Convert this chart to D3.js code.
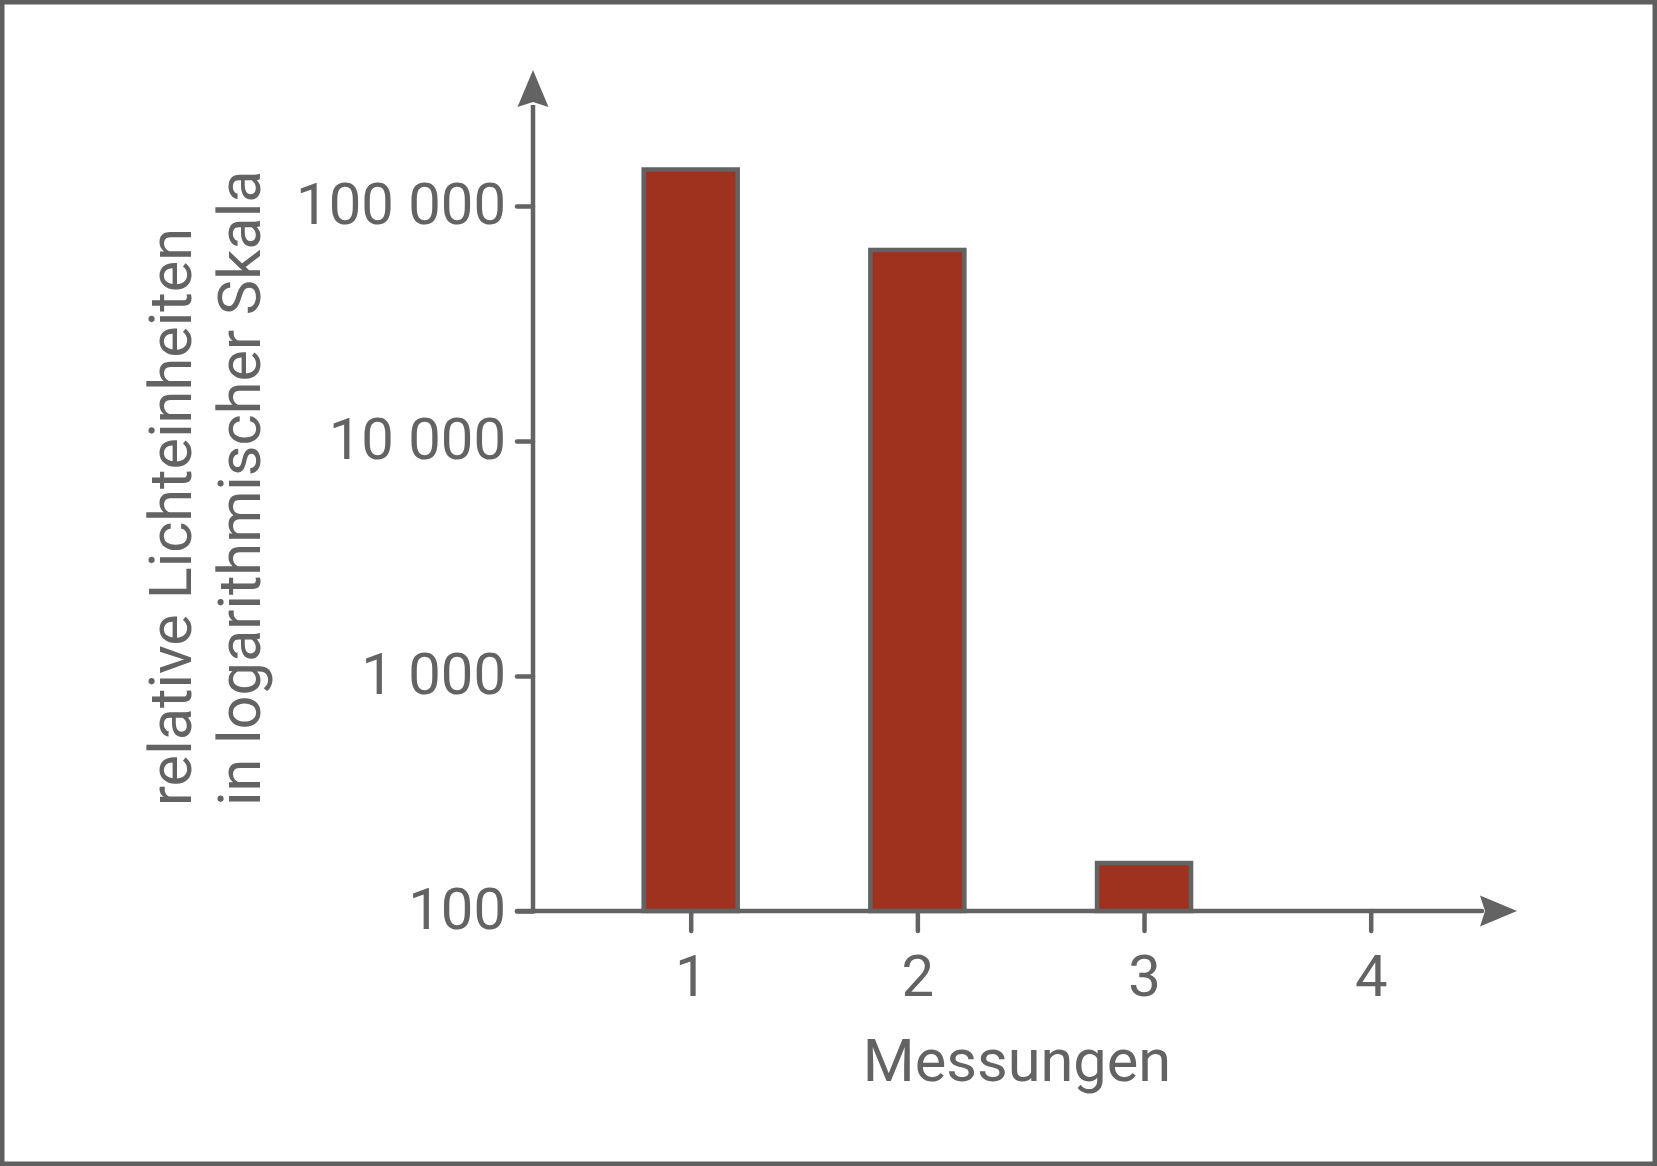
<!DOCTYPE html>
<html>
<head>
<meta charset="utf-8">
<script src="https://cdn.jsdelivr.net/npm/d3@7"></script>
<style>
  html, body { margin: 0; padding: 0; background: #fff; }
  svg { display: block; }
</style>
</head>
<body>
<svg id="chart" width="1657" height="1166"></svg>
<script>
// ---- data ----
const categories = [1, 2, 3, 4];
const values = [143000, 65000, 160, null];
const yTickValues = [100, 1000, 10000, 100000];
const yTitleLines = ["relative Lichteinheiten", "in logarithmischer Skala"];
const xTitle = "Messungen";

// ---- layout / style ----
const W = 1657, H = 1166;
const gray = "#636363";
const barFill = "#9f311f";
const font = "Roboto, 'Open Sans', sans-serif";
const fontSize = 58;
const titleSize = 59.5;
const lw = 4.5;

const axisX = 533;      // y-axis position
const axisY = 911;      // x-axis position

const svg = d3.select("#chart");

// border
svg.append("rect")
  .attr("x", lw / 2).attr("y", lw / 2)
  .attr("width", W - lw).attr("height", H - lw)
  .attr("fill", "#fff").attr("stroke", "#5f5f5f").attr("stroke-width", lw);

// scales
const y = d3.scaleLog().domain([100, 100000]).range([axisY, 206]);
const x = d3.scalePoint().domain(categories).range([690.7, 1370.7]);
const barW = 94;

// bars
svg.append("g").selectAll("rect")
  .data(categories.map((c, i) => ({ c, v: values[i] })).filter(d => d.v != null))
  .join("rect")
  .attr("x", d => x(d.c) - barW / 2)
  .attr("y", d => y(d.v))
  .attr("width", barW)
  .attr("height", d => y(100) - y(d.v))
  .attr("fill", barFill)
  .attr("stroke", gray)
  .attr("stroke-width", lw);

// y axis
const loc = d3.formatLocale({ decimal: ",", thousands: " ", grouping: [3], currency: ["", ""] });
const fmt = loc.format(",d");
const yAxis = d3.axisLeft(y).tickValues(yTickValues).tickFormat(fmt).tickSize(16).tickPadding(11);
const gy = svg.append("g").attr("transform", `translate(${axisX},0)`).call(yAxis);
gy.select(".domain").remove();
gy.selectAll(".tick line").attr("stroke", gray).attr("stroke-width", lw).attr("stroke-linecap", "round");
gy.selectAll(".tick text")
  .attr("fill", gray).attr("font-family", font).attr("font-size", fontSize)
  .attr("dy", "0.3em");

// x axis
const xAxis = d3.axisBottom(x).tickSize(20).tickPadding(24);
const gx = svg.append("g").attr("transform", `translate(0,${axisY})`).call(xAxis);
gx.select(".domain").remove();
gx.selectAll(".tick line").attr("stroke", gray).attr("stroke-width", lw).attr("stroke-linecap", "round");
gx.selectAll(".tick text")
  .attr("fill", gray).attr("font-family", font).attr("font-size", fontSize);

// axis lines with arrows
const yTop = 70, xRight = 1517, arrowLen = 37, arrowHalf = 15.5, notch = 5;
svg.append("line")
  .attr("x1", axisX).attr("y1", axisY + lw / 2).attr("x2", axisX).attr("y2", yTop + arrowLen - 2)
  .attr("stroke", gray).attr("stroke-width", lw);
svg.append("line")
  .attr("x1", 517).attr("y1", axisY).attr("x2", xRight - arrowLen + 2).attr("y2", axisY)
  .attr("stroke", gray).attr("stroke-width", lw).attr("stroke-linecap", "round");
svg.append("path")
  .attr("d", `M${axisX},${yTop} L${axisX + arrowHalf},${yTop + arrowLen} L${axisX},${yTop + arrowLen - notch} L${axisX - arrowHalf},${yTop + arrowLen} Z`)
  .attr("fill", gray);
svg.append("path")
  .attr("d", `M${xRight},${axisY} L${xRight - arrowLen},${axisY - arrowHalf} L${xRight - arrowLen + notch},${axisY} L${xRight - arrowLen},${axisY + arrowHalf} Z`)
  .attr("fill", gray);

// y title (two rotated lines)
const yTitle = svg.append("text")
  .attr("transform", "translate(191,806) rotate(-90)")
  .attr("fill", gray).attr("font-family", font).attr("font-size", titleSize)
  .attr("text-anchor", "start");
yTitle.selectAll("tspan").data(yTitleLines).join("tspan")
  .attr("x", 0).attr("y", (d, i) => i * 69)
  .text(d => d);

// x title
svg.append("text")
  .attr("x", 1017).attr("y", 1081)
  .attr("text-anchor", "middle")
  .attr("fill", gray).attr("font-family", font).attr("font-size", titleSize)
  .text(xTitle);
</script>
</body>
</html>
